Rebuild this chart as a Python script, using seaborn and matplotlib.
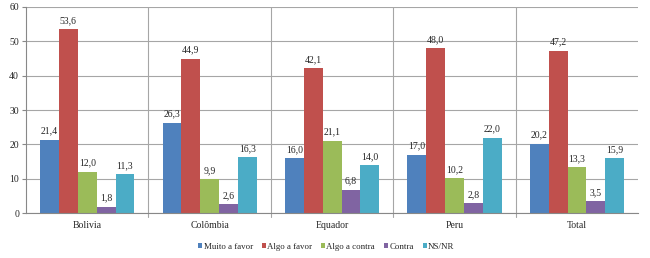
import pandas as pd
import matplotlib
matplotlib.use("Agg")
import matplotlib.pyplot as plt
import seaborn as sns

# Data
paises = ["Bolivia", "Colômbia", "Equador", "Peru", "Total"]
opcoes = ["Muito a favor", "Algo a favor", "Algo a contra", "Contra", "NS/NR"]
muito_a_favor = [21.4, 26.3, 16.0, 17.0, 20.2]
algo_a_favor = [53.6, 44.9, 42.1, 48.0, 47.2]
algo_a_contra = [12.0, 9.9, 21.1, 10.2, 13.3]
contra = [1.8, 2.6, 6.8, 2.8, 3.5]
ns_nr = [11.3, 16.3, 14.0, 22.0, 15.9]
cores = ["#4F81BD", "#C0504D", "#9BBB59", "#8064A2", "#4BACC6"]

series = [muito_a_favor, algo_a_favor, algo_a_contra, contra, ns_nr]
rows = []
for opcao, valores in zip(opcoes, series):
    for pais, v in zip(paises, valores):
        rows.append({"pais": pais, "opcao": opcao, "valor": v})
df = pd.DataFrame(rows)

sns.set_style("white")
plt.rcParams["font.family"] = ["Liberation Serif", "DejaVu Serif"]

fig = plt.figure(figsize=(6.5, 2.58), dpi=100)
ax = fig.add_axes([0.04, 0.174, 0.942, 0.799])

sns.barplot(data=df, x="pais", y="valor", hue="opcao", hue_order=opcoes,
            palette=cores, width=0.77, gap=0, saturation=1, ax=ax,
            edgecolor="none", legend=True)

for cont in ax.containers:
    ax.bar_label(cont, labels=[f"{v:.1f}".replace(".", ",") for v in cont.datavalues],
                 padding=3, fontsize=7)

ax.set_ylim(0, 60)
ax.set_xlim(-0.5, len(paises) - 0.5)
ax.set_yticks(range(0, 61, 10))
ax.yaxis.grid(True, color="#a6a6a6", linewidth=0.8)
ax.set_axisbelow(True)
for i in range(1, len(paises)):
    ax.axvline(i - 0.5, color="#a6a6a6", linewidth=0.8, ymin=-0.02, clip_on=False, zorder=0)

ax.tick_params(axis="y", labelsize=7, length=3, left=True, color="#888888", pad=2)
ax.tick_params(axis="x", labelsize=7, length=0, pad=6)
ax.set_xlabel("")
ax.set_ylabel("")

for s in ["top", "right"]:
    ax.spines[s].set_visible(False)
for s in ["left", "bottom"]:
    ax.spines[s].set_color("#888888")
    ax.spines[s].set_linewidth(0.8)

handles, labels = ax.get_legend_handles_labels()
ax.get_legend().remove()
fig.legend(handles, labels, loc="center", bbox_to_anchor=(0.502, 0.043), ncol=5,
           frameon=False, fontsize=6.4, handlelength=0.45, handleheight=0.45,
           handletextpad=0.15, columnspacing=1.0)

plt.savefig("out.png", dpi=100)
plt.close()
